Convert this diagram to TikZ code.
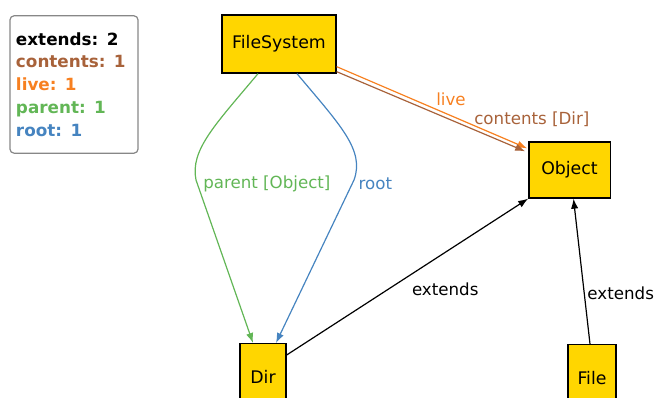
\documentclass[tikz,border=0pt]{standalone}
\usepackage{fontspec}
\setmainfont{DejaVu Sans}
\usetikzlibrary{arrows.meta,calc,positioning}
\definecolor{sigColor}{RGB}{255,214,0}
\definecolor{liveColor}{RGB}{247,128,32}
\definecolor{contentsColor}{RGB}{168,98,58}
\definecolor{parentColor}{RGB}{98,182,86}
\definecolor{rootColor}{RGB}{70,132,192}
\definecolor{legendColor}{RGB}{135,135,135}
\tikzset{sig/.style={fill=sigColor, draw, line width=1pt, align=center, font=\fontsize{13}{15}\selectfont}}
\tikzset{rel/.style={line width=0.9pt, -{Latex[length=7.5pt,width=5.5pt]}}}
\tikzset{lbl/.style={font=\fontsize{12.5}{15}\selectfont, inner sep=2pt}}

\begin{document}
\begin{tikzpicture}[x=0.75pt, y=-0.75pt]
\useasboundingbox (0,0) rectangle (654,398);
% Nodes
\node (legend) [draw=legendColor, line width=0.9pt, rounded corners=3pt, minimum width=96pt, minimum height=103pt, inner xsep=4.5pt, text width=87pt, align=left, font=\bfseries\fontsize{12.6}{17.1}\selectfont] at (74,84.5)
  {extends: 2\\ \textcolor{contentsColor}{contents: 1}\\ \textcolor{liveColor}{live: 1}\\ \textcolor{parentColor}{parent: 1}\\ \textcolor{rootColor}{root: 1}};

\node (fs) [sig, minimum width=85.5pt, minimum height=43.5pt] at (279,44) {FileSystem};
\node (obj) [sig, minimum width=61pt, minimum height=42pt] at (569.5,170) {Object};
\node (dir) [sig, minimum width=34.5pt, minimum height=50pt] at (263,377) {Dir};
\node (file) [sig, minimum width=36pt, minimum height=50pt] at (592,378) {File};

% Connectors
\begin{scope}[rel]
\draw [liveColor] ($(fs.south east)+(0,-7)$) -- node[lbl, pos=0.6, above, yshift=5pt] {live} ($(obj.north west)+(-1,7)$);
\draw [contentsColor] ($(fs.south east)+(0,-2)$) -- node[lbl, pos=0.72, anchor=south west, inner sep=1pt] {contents [Dir]} ($(obj.north west)+(-3,10)$);

\draw [parentColor] ($(fs.south)+(-21,0)$) .. controls (215,125) and (190,150) .. (196,180) -- node[lbl, pos=0.0, right, xshift=3pt, yshift=-3pt] {parent [Object]} ($(dir.north)+(-10,0)$);
\draw [rootColor] ($(fs.south)+(18,0)$) .. controls (340,125) and (365,150) .. (354,180) -- node[lbl, pos=0.0, right, xshift=1pt, yshift=-3pt] {root} ($(dir.north)+(13,0)$);

\draw [black] ($(dir.north east)+(0,12)$) -- node[lbl, pos=0.5, anchor=north west, xshift=1pt, yshift=-2pt] {extends} (obj.south west);
\draw [black] ($(file.north)+(-2,0)$) -- node[lbl, pos=0.35, right] {extends} ($(obj.south)+(4,0)$);
\end{scope}
\end{tikzpicture}
\end{document}
